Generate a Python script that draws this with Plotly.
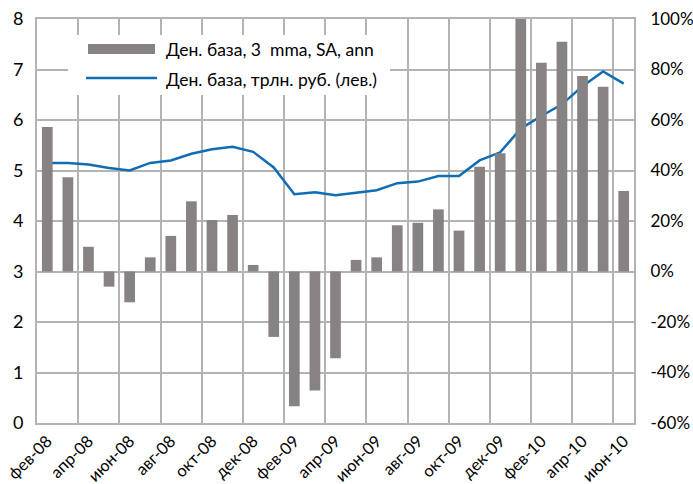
import plotly.graph_objects as go

months = ["фев-08","мар-08","апр-08","май-08","июн-08","июл-08","авг-08","сен-08","окт-08","ноя-08","дек-08",
          "янв-09","фев-09","мар-09","апр-09","май-09","июн-09","июл-09","авг-09","сен-09","окт-09","ноя-09","дек-09",
          "янв-10","фев-10","мар-10","апр-10","май-10","июн-10"]
base_growth = [57.2, 37.3, 9.8, -6.0, -12.2, 5.6, 14.1, 27.8, 20.4, 22.4, 2.6,
               -25.9, -53.4, -47.1, -34.4, 4.6, 5.6, 18.3, 19.3, 24.6, 16.2, 41.5, 46.8,
               100.0, 82.7, 91.0, 77.4, 73.2, 31.9]
base_level = [5.15, 5.15, 5.12, 5.05, 5.00, 5.15, 5.20, 5.33, 5.42, 5.47, 5.37,
              5.06, 4.53, 4.57, 4.51, 4.56, 4.61, 4.75, 4.78, 4.89, 4.89, 5.20, 5.36,
              5.83, 6.08, 6.31, 6.67, 6.96, 6.72]
right_ticks = [-60, -40, -20, 0, 20, 40, 60, 80, 100]
right_tick_text = ["-60%", "-40%", "-20%", "0%", "20%", "40%", "60%", "80%", "100%"]
bar_name = "Ден. база, 3 \u00a0mma, SA, ann"
line_name = "Ден. база, трлн. руб. (лев.)"

x = list(range(len(months)))
FONT = "Lato"
GRID = "#b3b3b3"

fig = go.Figure()
fig.add_trace(go.Bar(x=x, y=base_growth, yaxis="y2", name=bar_name,
                     marker=dict(color="#878382", line=dict(width=0)), width=0.52))
fig.add_trace(go.Scatter(x=x, y=base_level, yaxis="y", name=line_name, mode="lines",
                         line=dict(color="#0f6db3", width=2.5)))

fig.update_layout(
    width=693, height=484,
    margin=dict(l=37, r=59, t=19, b=61),
    paper_bgcolor="white", plot_bgcolor="white",
    showlegend=False,
    font=dict(family=FONT, size=16, color="#000000"),
    xaxis=dict(range=[-0.5, len(months) - 0.5], tickmode="array",
               tickvals=x[::2], ticktext=months[::2], tickangle=-45,
               showgrid=False, zeroline=False, ticks="", automargin=False,
               showline=True, linecolor=GRID, linewidth=2, mirror=True,
               minor=dict(tick0=-0.5, dtick=2, showgrid=True, gridcolor=GRID, gridwidth=2, ticks=""),
               tickfont=dict(size=16.5)),
    yaxis=dict(range=[0, 8], dtick=1, showgrid=True, gridcolor=GRID, gridwidth=2, automargin=False,
               zeroline=False, showline=True, linecolor=GRID, linewidth=2, mirror=True,
               ticks="outside", ticklen=8, tickcolor="rgba(0,0,0,0)", tickfont=dict(size=18)),
    yaxis2=dict(range=[-60, 100], tickmode="array", tickvals=right_ticks, ticktext=right_tick_text,
                overlaying="y", side="right", automargin=False,
                showgrid=False, zeroline=False, showline=False,
                ticks="outside", ticklen=12, tickcolor="rgba(0,0,0,0)", tickfont=dict(size=17)),
    bargap=0.5,
)

# custom legend
def px_x(p):
    return (p - 37) / (693 - 37 - 59)
def px_y(p):
    return (423 - p) / (484 - 19 - 61)

fig.add_shape(type="rect", xref="paper", yref="paper", x0=px_x(68), x1=px_x(390),
              y0=px_y(95), y1=px_y(35), fillcolor="white", line=dict(width=0), layer="above")
fig.add_shape(type="rect", xref="paper", yref="paper", x0=px_x(88), x1=px_x(155),
              y0=px_y(54), y1=px_y(44), fillcolor="#878382", line=dict(width=0), layer="above")
fig.add_shape(type="line", xref="paper", yref="paper", x0=px_x(86), x1=px_x(157),
              y0=px_y(78), y1=px_y(78), line=dict(color="#0f6db3", width=2.5), layer="above")
fig.add_annotation(xref="paper", yref="paper", x=px_x(164), y=px_y(50), text=bar_name,
                   showarrow=False, xanchor="left", yanchor="middle", font=dict(size=17.5))
fig.add_annotation(xref="paper", yref="paper", x=px_x(164), y=px_y(79), text=line_name,
                   showarrow=False, xanchor="left", yanchor="middle", font=dict(size=17.5))

fig.write_html("out.html")
